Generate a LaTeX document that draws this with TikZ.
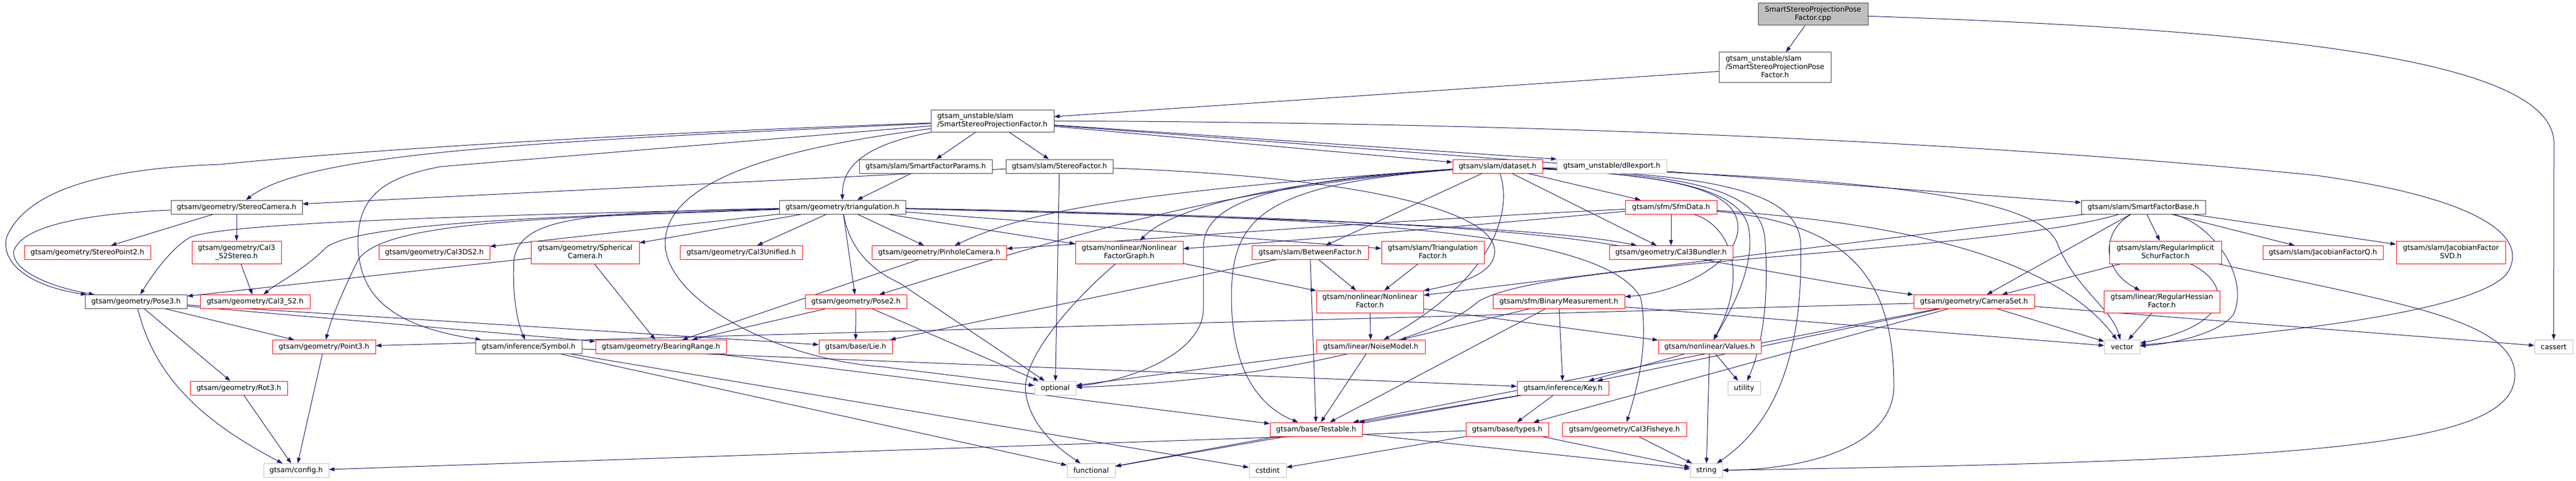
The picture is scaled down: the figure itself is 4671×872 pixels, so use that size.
\documentclass[tikz,border=0pt]{standalone}
\usepackage{fontspec}
\setmainfont{DejaVu Sans}
\usetikzlibrary{arrows.meta}
\definecolor{edgeblue}{HTML}{191970}
\definecolor{nodegray}{HTML}{BFBFBF}
\definecolor{nodedark}{HTML}{404040}
\newcommand\twoln[2]{\begin{tabular}{@{}l@{}}#1\\\multicolumn{1}{@{}c@{}}{#2}\end{tabular}}
\newcommand\threeln[3]{\begin{tabular}{@{}l@{}}#1\\#2\\\multicolumn{1}{@{}c@{}}{#3}\end{tabular}}
\pgfdeclarelayer{bg}
\pgfsetlayers{bg,main}
\begin{document}
\begin{tikzpicture}[x=1pt,y=-1pt,
 box/.style={rectangle, inner sep=0pt, line width=1pt, fill=white, text=black, font=\fontsize{12.9}{15}\selectfont, minimum height=25pt},
 nblk/.style={box, draw=nodedark},
 nred/.style={box, draw=red},
 ngry/.style={box, draw=nodegray},
 nroot/.style={box, draw=nodedark, fill=nodegray},
 dep/.style={draw=edgeblue, line width=1pt, -{Triangle[length=10pt,width=7pt]}}]
\useasboundingbox (0,0) rectangle (4671,872);
% nodes
\node[nroot, minimum width=199pt, minimum height=40pt] (R) at (3287.5,26) {\twoln{SmartStereoProjectionPose}{Factor.cpp}};
\node[nblk, minimum width=203pt, minimum height=55pt] (SSPPF) at (3218.5,122.5) {\threeln{gtsam\_unstable/slam}{/SmartStereoProjectionPose}{Factor.h}};
\node[nblk, minimum width=223pt, minimum height=40pt] (SSPF) at (1799.5,219) {\twoln{gtsam\_unstable/slam}{/SmartStereoProjectionFactor.h}};
\node[nblk, minimum width=241pt] (SFP) at (1678.5,301.5) {gtsam/slam/SmartFactorParams.h};
\node[nblk, minimum width=194pt] (SF) at (1921,301.5) {gtsam/slam/StereoFactor.h};
\node[nred, minimum width=163pt] (DS) at (2715.5,301.5) {gtsam/slam/dataset.h};
\node[ngry, minimum width=199pt] (DLL) at (2922.5,301.5) {gtsam\_unstable/dllexport.h};
\node[nblk, minimum width=238pt] (SC) at (429,375.5) {gtsam/geometry/StereoCamera.h};
\node[nblk, minimum width=229pt] (TRI) at (1527.5,375.5) {gtsam/geometry/triangulation.h};
\node[nred, minimum width=166pt] (SFM) at (3030,375.5) {gtsam/sfm/SfmData.h};
\node[nblk, minimum width=225pt] (SFB) at (3886.5,375.5) {gtsam/slam/SmartFactorBase.h};
\node[nred, minimum width=229pt] (SP2) at (158.5,458) {gtsam/geometry/StereoPoint2.h};
\node[nred, minimum width=162pt, minimum height=41pt] (CS2S) at (429,457.5) {\twoln{gtsam/geometry/Cal3}{\_S2Stereo.h}};
\node[nred, minimum width=201pt] (CDS2) at (787.5,458) {gtsam/geometry/Cal3DS2.h};
\node[nred, minimum width=196pt, minimum height=41pt] (SPH) at (1061,457.5) {\twoln{gtsam/geometry/Spherical}{Camera.h}};
\node[nred, minimum width=222pt] (CU) at (1344,458) {gtsam/geometry/Cal3Unified.h};
\node[nred, minimum width=244pt] (PHC) at (1703,458) {gtsam/geometry/PinholeCamera.h};
\node[nred, minimum width=195pt, minimum height=41pt] (NFG) at (2047.5,457.5) {\twoln{gtsam/nonlinear/Nonlinear}{FactorGraph.h}};
\node[nred, minimum width=211pt] (BF) at (2375.5,458) {gtsam/slam/BetweenFactor.h};
\node[nred, minimum width=186pt, minimum height=41pt] (TF) at (2598,457.5) {\twoln{gtsam/slam/Triangulation}{Factor.h}};
\node[nred, minimum width=224pt] (CB) at (3030,458) {gtsam/geometry/Cal3Bundler.h};
\node[nred, minimum width=203pt, minimum height=41pt] (RISF) at (3926.5,457.5) {\twoln{gtsam/slam/RegularImplicit}{SchurFactor.h}};
\node[nred, minimum width=218pt] (JQ) at (4212,458) {gtsam/slam/JacobianFactorQ.h};
\node[nred, minimum width=198pt, minimum height=41pt] (JSVD) at (4444,457.5) {\twoln{gtsam/slam/JacobianFactor}{SVD.h}};
\node[nblk, minimum width=185pt] (P3) at (246.5,547) {gtsam/geometry/Pose3.h};
\node[nred, minimum width=199pt] (CS2) at (462.5,547) {gtsam/geometry/Cal3\_S2.h};
\node[nred, minimum width=184pt] (P2) at (1552,547) {gtsam/geometry/Pose2.h};
\node[nred, minimum width=194pt, minimum height=40pt] (NF) at (2484,547) {\twoln{gtsam/nonlinear/Nonlinear}{Factor.h}};
\node[nred, minimum width=239pt] (BM) at (2826.5,547) {gtsam/sfm/BinaryMeasurement.h};
\node[nred, minimum width=219pt] (CSET) at (3579.5,547) {gtsam/geometry/CameraSet.h};
\node[nred, minimum width=210pt, minimum height=40pt] (RHF) at (3920,547) {\twoln{gtsam/linear/RegularHessian}{Factor.h}};
\node[nred, minimum width=187pt] (PT3) at (587.5,629) {gtsam/geometry/Point3.h};
\node[nblk, minimum width=193pt] (SYM) at (958.5,629) {gtsam/inference/Symbol.h};
\node[nred, minimum width=237pt] (BR) at (1198.5,629) {gtsam/geometry/BearingRange.h};
\node[nred, minimum width=133pt] (LIE) at (1551.5,629) {gtsam/base/Lie.h};
\node[nred, minimum width=197pt] (NM) at (2485.5,629) {gtsam/linear/NoiseModel.h};
\node[nred, minimum width=186pt] (VAL) at (3100,629) {gtsam/nonlinear/Values.h};
\node[ngry, minimum width=64pt] (VEC) at (3848,629) {vector};
\node[ngry, minimum width=69pt] (CAS) at (4630.5,629) {cassert};
\node[nred, minimum width=176pt] (ROT) at (433,703.5) {gtsam/geometry/Rot3.h};
\node[ngry, minimum width=75pt] (OPT) at (1913.5,703.5) {optional};
\node[nred, minimum width=166pt] (KEY) at (2834,703.5) {gtsam/inference/Key.h};
\node[ngry, minimum width=59pt] (UTIL) at (3162.5,703.5) {utility};
\node[nred, minimum width=167pt] (TEST) at (2386.5,778.5) {gtsam/base/Testable.h};
\node[nred, minimum width=150pt] (TYPES) at (2733,778.5) {gtsam/base/types.h};
\node[nred, minimum width=225pt] (CF) at (2945.5,778.5) {gtsam/geometry/Cal3Fisheye.h};
\node[ngry, minimum width=118pt] (CFG) at (537,853) {gtsam/config.h};
\node[ngry, minimum width=87pt] (FUN) at (1978.5,853) {functional};
\node[ngry, minimum width=67pt] (CSTD) at (2298.5,853) {cstdint};
\node[ngry, minimum width=58pt] (STR) at (3094,853) {string};
% edges
\begin{pgfonlayer}{bg}
\fill[white] (0,0) rectangle (4671,872);
\draw[dep] (R) -- (SSPPF);
\draw[dep] (R) .. controls (4150,55) and (4631,110) .. (4631,260) -- (CAS);
\draw[dep] (SSPPF) -- (SSPF);
\draw[dep] (SSPF) -- (SFP);
\draw[dep] (SSPF) -- (SF);
\draw[dep] (SSPF) -- (DS);
\draw[dep] (SSPF) -- (DLL.north west);
\draw[dep] (SSPF) -- (SFB);
\draw[dep] (SSPF) .. controls (1570,262) and (1527,300) .. (TRI);
\draw[dep] (SSPF) .. controls (1000,255) and (560,275) .. (SC);
\draw[dep] (SSPF) .. controls (1200,240) and (700,268) .. (400,298) .. controls (200,305) and (50,340) .. (12,430) .. controls (0,480) and (60,520) .. (P3);
\draw[dep] (SSPF) -- (800,302) .. controls (690,322) and (649,360) .. (649,440) .. controls (650,530) and (700,590) .. (SYM);
\draw[dep] (SSPF) .. controls (1400,270) and (1208,330) .. (1206,440) .. controls (1205,540) and (1400,650) .. (1600,665) -- (OPT);
\draw[dep] (SSPF) .. controls (2800,222) and (3600,258) .. (4200,318) .. controls (4500,360) and (4590,430) .. (4545,497) .. controls (4480,570) and (4100,605) .. (VEC);
\draw[dep] (SFP) -- (TRI);
\draw[dep] (SF) -- (SC);
\draw[dep] (SF) -- (OPT);
\draw[dep] (SF) .. controls (2450,320) and (2720,380) .. (2710,460) .. controls (2705,500) and (2640,515) .. (NF);
\draw[dep] (DS) -- (SFM);
\draw[dep] (DS) .. controls (2000,350) and (1850,390) .. (PHC);
\draw[dep] (DS) .. controls (2200,340) and (1900,440) .. (P2);
\draw[dep] (DS) .. controls (2300,330) and (2120,380) .. (NFG);
\draw[dep] (DS) .. controls (2260,330) and (2182,380) .. (2182,450) -- (2182,560) .. controls (2182,640) and (2050,690) .. (OPT);
\draw[dep] (DS) .. controls (2280,335) and (2233,400) .. (2233,540) .. controls (2233,680) and (2290,740) .. (TEST);
\draw[dep] (DS) -- (BF);
\draw[dep] (DS) .. controls (2745,390) and (2700,510) .. (NM);
\draw[dep] (DS) -- (CB);
\draw[dep] (DS) .. controls (3000,318) and (3135,335) .. (3150,400) .. controls (3165,470) and (3050,530) .. (BM);
\draw[dep] (DS) .. controls (3000,318) and (3150,335) .. (3170,410) .. controls (3185,480) and (3140,560) .. (VAL);
\draw[dep] (DS) .. controls (3050,318) and (3190,340) .. (3200,430) .. controls (3210,560) and (3190,640) .. (UTIL);
\draw[dep] (DS) .. controls (3080,318) and (3260,340) .. (3265,440) .. controls (3270,620) and (3230,760) .. (STR);
\draw[dep] (DS) .. controls (3300,320) and (3690,345) .. (3730,440) .. controls (3760,520) and (3830,560) .. (VEC);
\draw[dep] (SFM) .. controls (2500,400) and (2000,440) .. (PHC);
\draw[dep] (SFM) .. controls (2600,415) and (2300,440) .. (NFG);
\draw[dep] (SFM) -- (CB);
\draw[dep] (SFM) .. controls (3140,410) and (3170,500) .. (VAL);
\draw[dep] (SFM) .. controls (3300,395) and (3700,430) .. (VEC);
\draw[dep] (SFM) .. controls (3350,405) and (3434,500) .. (3434,700) .. controls (3434,800) and (3300,850) .. (STR);
\draw[dep] (TRI) -- (CDS2);
\draw[dep] (TRI) -- (SPH);
\draw[dep] (TRI) -- (CU);
\draw[dep] (TRI) -- (PHC);
\draw[dep] (TRI) -- (P2);
\draw[dep] (TRI) .. controls (1000,392) and (640,405) .. (590,450) .. controls (550,490) and (500,515) .. (CS2);
\draw[dep] (TRI) .. controls (1000,395) and (700,400) .. (650,470) .. controls (620,530) and (600,580) .. (PT3);
\draw[dep] (TRI) .. controls (1000,388) and (420,400) .. (345,430) .. controls (310,450) and (275,500) .. (P3);
\draw[dep] (TRI) .. controls (1050,385) and (945,395) .. (932,470) .. controls (928,540) and (940,590) .. (SYM);
\draw[dep] (TRI) .. controls (1540,450) and (1580,490) .. (1631,513) -- (OPT);
\draw[dep] (TRI) -- (NFG);
\draw[dep] (TRI) -- (TF);
\draw[dep] (TRI) .. controls (2300,395) and (2800,410) .. (CB);
\draw[dep] (TRI) .. controls (2300,390) and (2700,410) .. (2900,440) .. controls (3100,470) and (3350,520) .. (CSET);
\draw[dep] (TRI) .. controls (2300,395) and (2900,400) .. (2975,540) .. controls (2990,620) and (2970,700) .. (CF);
\draw[dep] (SFB) -- (NF);
\draw[dep] (SFB) .. controls (3600,460) and (2800,470) .. (2680,547) .. controls (2600,620) and (2300,690) .. (OPT);
\draw[dep] (SFB) -- (CSET);
\draw[dep] (SFB) .. controls (3810,420) and (3810,490) .. (RHF);
\draw[dep] (SFB) -- (RISF);
\draw[dep] (SFB) -- (JQ);
\draw[dep] (SFB) -- (JSVD);
\draw[dep] (SFB) .. controls (4010,405) and (4080,500) .. (4050,570) .. controls (4020,610) and (3920,625) .. (VEC);
\draw[dep] (RISF) -- (CSET);
\draw[dep] (RISF) .. controls (4040,510) and (4060,585) .. (VEC);
\draw[dep] (RISF) .. controls (4350,550) and (4560,580) .. (4560,680) .. controls (4560,810) and (4200,835) .. (STR);
\draw[dep] (RHF) -- (VEC);
\draw[dep] (CSET) -- (PT3);
\draw[dep] (CSET) -- (VEC);
\draw[dep] (CSET) -- (CAS);
\draw[dep] (CSET) -- (KEY);
\draw[dep] (CSET) -- (TYPES);
\draw[dep] (CSET) -- (TEST);
\draw[dep] (BM) -- (NM);
\draw[dep] (BM) -- (KEY);
\draw[dep] (BM) -- (TEST);
\draw[dep] (BM) -- (VEC);
\draw[dep] (VAL) -- (KEY);
\draw[dep] (VAL) -- (UTIL);
\draw[dep] (VAL) -- (STR);
\draw[dep] (NF) -- (NM);
\draw[dep] (NF) -- (VAL);
\draw[dep] (NFG) -- (NF);
\draw[dep] (NFG) .. controls (1950,540) and (1850,650) .. (1860,713) .. controls (1870,780) and (1930,820) .. (FUN);
\draw[dep] (BF) -- (NF);
\draw[dep] (BF) -- (TEST);
\draw[dep] (BF) -- (LIE);
\draw[dep] (TF) -- (NF);
\draw[dep] (KEY) -- (TEST);
\draw[dep] (KEY) -- (TYPES);
\draw[dep] (KEY) -- (FUN);
\draw[dep] (TYPES) -- (CFG);
\draw[dep] (TYPES) -- (CSTD);
\draw[dep] (TYPES) -- (STR);
\draw[dep] (CF) -- (STR);
\draw[dep] (TEST) -- (FUN);
\draw[dep] (TEST) -- (STR);
\draw[dep] (NM) -- (OPT);
\draw[dep] (NM) -- (TEST);
\draw[dep] (P2) -- (BR);
\draw[dep] (P2) -- (LIE);
\draw[dep] (P2) -- (OPT);
\draw[dep] (PHC) -- (BR);
\draw[dep] (SPH) -- (BR);
\draw[dep] (SPH) -- (P3);
\draw[dep] (SC) -- (SP2);
\draw[dep] (SC) -- (CS2S);
\draw[dep] (SC) .. controls (150,388) and (40,410) .. (25,455) .. controls (20,490) and (90,520) .. (P3);
\draw[dep] (CS2S) -- (CS2);
\draw[dep] (P3) -- (PT3);
\draw[dep] (P3) -- (ROT);
\draw[dep] (P3) .. controls (280,680) and (360,760) .. (CFG);
\draw[dep] (P3) -- (BR);
\draw[dep] (P3) -- (LIE);
\draw[dep] (PT3) -- (CFG);
\draw[dep] (ROT) -- (CFG);
\draw[dep] (SYM) -- (KEY);
\draw[dep] (SYM) -- (FUN);
\draw[dep] (SYM) -- (CSTD);
\draw[dep] (BR) -- (TEST);
\end{pgfonlayer}
\end{tikzpicture}
\end{document}
